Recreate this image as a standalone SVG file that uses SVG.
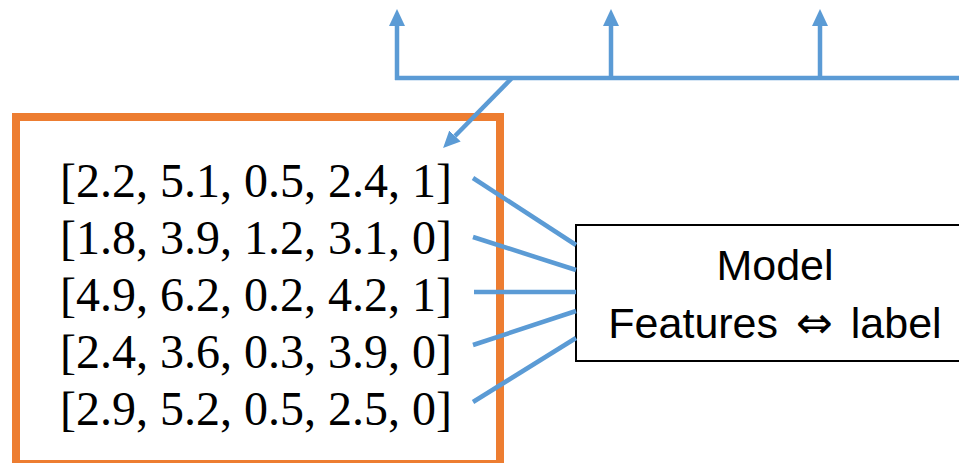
<svg xmlns="http://www.w3.org/2000/svg" width="959" height="463" viewBox="0 0 959 463">
<style>
.conn{stroke:#5B9BD5;stroke-width:4.5;fill:none}
.data{font-family:"Liberation Serif","DejaVu Serif",serif;font-size:48px;fill:#000}
.lbl{font-family:"Liberation Sans","DejaVu Sans",sans-serif;font-size:43px;fill:#000;text-anchor:middle}
.sym{font-family:"DejaVu Sans",sans-serif;font-size:44px}
</style>
<defs>
<marker id="ah" markerUnits="userSpaceOnUse" markerWidth="18" markerHeight="17" refX="0" refY="8" orient="auto">
<path d="M0,0 L17,8 L0,16 Z" fill="#5B9BD5"/>
</marker>
</defs>
<rect width="959" height="463" fill="#fff"/>
<g id="data">
<rect x="16" y="117" width="484" height="347" fill="#fff" stroke="#ED7D31" stroke-width="8"/>
<text class="data" x="60" y="197">[2.2, 5.1, 0.5, 2.4, 1]</text>
<text class="data" x="60" y="254">[1.8, 3.9, 1.2, 3.1, 0]</text>
<text class="data" x="60" y="311">[4.9, 6.2, 0.2, 4.2, 1]</text>
<text class="data" x="60" y="368">[2.4, 3.6, 0.3, 3.9, 0]</text>
<text class="data" x="60" y="425">[2.9, 5.2, 0.5, 2.5, 0]</text>
</g>
<g id="model">
<rect x="576" y="225" width="400" height="136" fill="#fff" stroke="#000" stroke-width="2"/>
<text class="lbl" x="775" y="280">Model</text>
<text class="lbl" x="775" y="338">Features <tspan class="sym" dx="6">⇔</tspan><tspan dx="6"> label</tspan></text>
</g>
<g id="connectors">
<line class="conn" x1="395" y1="78" x2="959" y2="78"/>
<line class="conn" x1="397" y1="80" x2="397" y2="26" marker-end="url(#ah)"/>
<line class="conn" x1="611" y1="78" x2="611" y2="26" marker-end="url(#ah)"/>
<line class="conn" x1="820" y1="78" x2="820" y2="26" marker-end="url(#ah)"/>
<line class="conn" x1="512" y1="78" x2="455" y2="136" marker-end="url(#ah)"/>
<line class="conn" x1="473" y1="178" x2="576" y2="245"/>
<line class="conn" x1="473" y1="237" x2="576" y2="270"/>
<line class="conn" x1="474" y1="292" x2="576" y2="292"/>
<line class="conn" x1="473" y1="345" x2="576" y2="311"/>
<line class="conn" x1="473" y1="402" x2="576" y2="338"/>
</g>
</svg>
